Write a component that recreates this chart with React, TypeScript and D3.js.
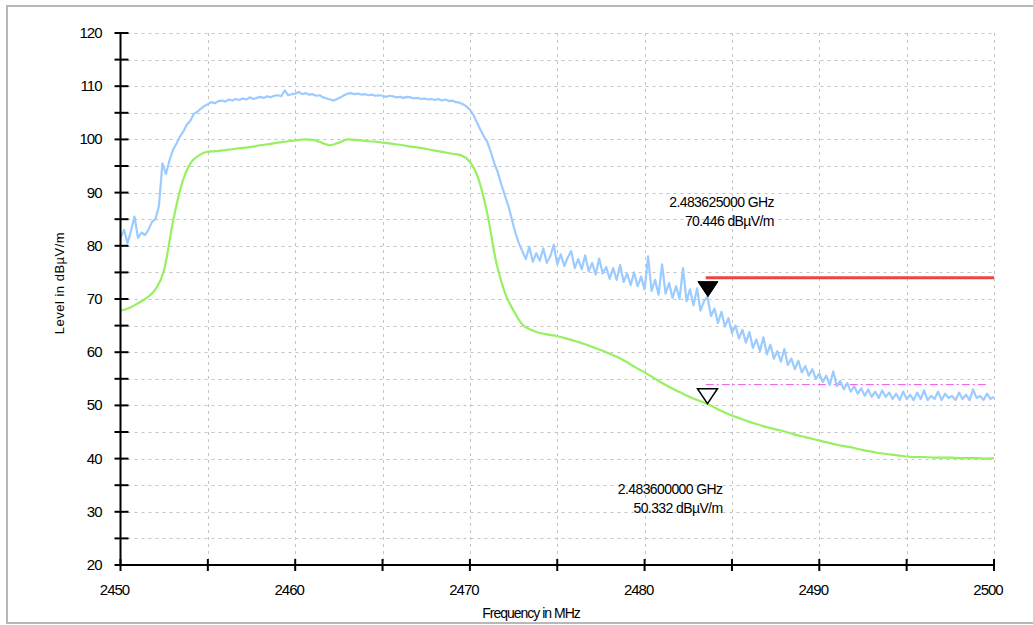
import React from 'react';
import * as d3 from 'd3';

// peak trace, 0.2 MHz steps, one row = 1 MHz
const peakStep = 0.2;
const peak2450 = [
  81.5, 83.0, 80.5, 82.8, 85.5,
  81.5, 82.5, 82.0, 83.0, 84.5,
  85.0, 87.5, 95.5, 93.5, 96.0,
  98.0, 99.2, 100.5, 101.5, 102.8,
  103.5, 104.8, 105.2, 105.8, 106.3,
  106.6, 107.0, 106.8, 107.2, 107.3,
  107.1, 107.5, 107.3, 107.6, 107.4,
  107.7, 107.5, 107.9, 107.6, 107.8,
  108.0, 107.8, 108.1, 107.9, 108.2,
  108.3, 108.1, 109.2, 108.3, 108.5,
];
const peak2460 = [
  108.6, 108.9, 108.5, 108.7, 108.4,
  108.5, 108.2, 108.3, 107.9, 107.7,
  107.5, 107.3, 107.6, 107.9, 108.3,
  108.6, 108.7, 108.5, 108.6, 108.4,
  108.5, 108.3, 108.4, 108.2, 108.3,
  108.2, 108.0, 108.2, 108.1, 107.9,
  108.0, 107.8, 108.0, 107.9, 107.7,
  107.8, 107.6, 107.7, 107.5, 107.6,
  107.4, 107.6, 107.3, 107.5, 107.2,
  107.3, 107.0, 106.9, 106.6, 106.2,
];
const peak2470 = [
  105.6, 104.6, 103.2, 101.8, 100.6,
  99.5, 97.6, 95.5, 93.8, 91.5,
  89.5, 87.5, 85.0, 82.5, 80.5,
  79.0, 77.5, 79.8, 77.0, 78.6,
  77.2, 79.5, 76.8, 78.0, 80.2,
  76.5, 78.4, 76.2, 77.8, 79.0,
  75.8, 77.5, 75.6, 78.2, 75.2,
  76.8, 74.6, 77.6, 74.8, 76.0,
  73.8, 75.8, 73.6, 76.4, 73.2,
  74.8, 72.6, 75.0, 72.4, 74.2,
];
const peak2480 = [
  71.8, 78.0, 71.5, 73.6, 70.8,
  76.5, 71.0, 73.0, 70.2, 72.4,
  70.0, 75.8, 69.6, 71.8, 68.8,
  72.0, 67.8, 69.6, 70.4, 66.8,
  68.2, 65.5, 67.6, 64.8, 66.4,
  63.6, 65.0, 62.6, 64.2, 61.8,
  63.8, 60.8, 62.4, 60.2, 62.8,
  59.6, 61.4, 58.8, 60.2, 58.2,
  60.6, 57.6, 58.8, 56.8, 58.4,
  56.2, 57.4, 55.6, 56.8, 55.0,
];
const peak2490 = [
  56.0, 54.4, 55.6, 53.8, 56.4,
  53.6, 54.6, 53.0, 54.2, 52.6,
  53.6, 52.2, 53.2, 51.8, 53.0,
  51.6, 52.6, 51.4, 52.8, 51.6,
  52.4, 51.2, 52.2, 51.0, 52.6,
  51.2, 52.0, 51.0, 52.4, 51.2,
  52.8, 51.0, 51.8, 51.2, 52.6,
  51.0, 52.2, 51.4, 51.8, 51.0,
  52.4, 51.2, 52.0, 51.0, 53.0,
  51.4, 51.8, 51.0, 52.2, 51.2,
  51.6,
];

// average trace, 0.5 MHz steps, one row = 5 MHz
const avgStep = 0.5;
const avgLevel = [
  67.8, 68.3, 69.2, 70.2, 71.8, 75.5, 84.5, 91.5, 95.5, 97.0,
  97.7, 97.8, 98.0, 98.2, 98.4, 98.6, 98.9, 99.1, 99.4, 99.6,
  99.8, 100.0, 99.9, 99.4, 98.9, 99.4, 100.0, 99.9, 99.7, 99.6,
  99.4, 99.2, 99.0, 98.7, 98.5, 98.2, 97.9, 97.6, 97.3, 97.0,
  95.8, 92.5, 86.0, 77.0, 71.2, 67.8, 65.2, 64.2, 63.6, 63.3,
  63.0, 62.6, 62.1, 61.6, 61.0, 60.4, 59.7, 59.0, 58.1, 57.1,
  56.2, 55.2, 54.2, 53.3, 52.5, 51.7, 51.0, 50.4, 49.6, 48.8,
  48.1, 47.5, 46.9, 46.4, 45.9, 45.5, 45.1, 44.6, 44.2, 43.8,
  43.4, 43.0, 42.6, 42.3, 42.0, 41.6, 41.3, 41.0, 40.8, 40.6,
  40.4, 40.3, 40.3, 40.2, 40.2, 40.2, 40.1, 40.1, 40.1, 40.0,
  40.1,
];

// limit lines (dBuV/m) from 2483.5 MHz
const limitStart = 2483.5;
const limitEnd = 2500;
const peakLimit = 74;
const avgLimit = 54;

// markers
const peakMarker = { f: 2483.625, level: 70.446, ghz: '2.483625000 GHz', lvl: '70.446 dBµV/m' };
const avgMarker = { f: 2483.6, level: 50.332, ghz: '2.483600000 GHz', lvl: '50.332 dBµV/m' };

const xTicks = d3.range(2450, 2501, 5);
const yTicks = d3.range(20, 121, 5);

const W = 1033;
const H = 625;
const font = 'Liberation Sans, Arial, sans-serif';

export default function App() {
  const x = d3.scaleLinear().domain([2450, 2500]).range([120.5, 994]);
  const y = d3.scaleLinear().domain([20, 120]).range([565, 33]);

  const peak = [
    ...peak2450.map((v, i) => [2450 + i * peakStep, v]),
    ...peak2460.map((v, i) => [2460 + i * peakStep, v]),
    ...peak2470.map((v, i) => [2470 + i * peakStep, v]),
    ...peak2480.map((v, i) => [2480 + i * peakStep, v]),
    ...peak2490.map((v, i) => [2490 + i * peakStep, v]),
  ];
  const avg = avgLevel.map((v, i) => [2450 + i * avgStep, v]);

  const line = d3
    .line<number[]>()
    .x((d) => x(d[0]))
    .y((d) => y(d[1]));
  const smooth = line.curve(d3.curveMonotoneX);

  const x0 = x(2450);
  const x1 = x(2500);
  const y0 = y(20);
  const y1 = y(120);

  const pmx = x(peakMarker.f);
  const pmy = y(peakMarker.level);
  const amx = x(avgMarker.f);
  const amy = y(avgMarker.level);
  const tri = (cx: number, tip: number) =>
    `M${cx - 10},${tip - 15}L${cx + 10},${tip - 15}L${cx},${tip}Z`;

  const peakPath = d3.line<number[]>().x((d) => x(d[0])).y((d) => y(d[1]))(peak) || '';
  const avgPath = smooth(avg) || '';

  return (
    <svg
      width={W}
      height={H}
      style={{ position: 'absolute', left: 0, top: 0, background: '#fff' }}
      fontFamily={font}
    >
      <rect x={7} y={6} width={W} height={617} fill="#fff" stroke="#b8b8b8" strokeWidth={2} />

      {/* grid */}
      <g stroke="#c4c4c4" strokeWidth={1} strokeDasharray="3,4">
        {yTicks.filter((t) => t !== 20).map((t) => (
          <line key={'gy' + t} x1={x0} x2={x1} y1={Math.round(y(t)) + 0.5} y2={Math.round(y(t)) + 0.5} />
        ))}
        {xTicks.filter((t) => t !== 2450).map((t) => (
          <line key={'gx' + t} x1={Math.round(x(t)) + 0.5} x2={Math.round(x(t)) + 0.5} y1={y1} y2={y0} />
        ))}
      </g>

      {/* limits */}
      <line x1={x(limitStart)} x2={x(limitEnd)} y1={y(peakLimit)} y2={y(peakLimit)} stroke="#ee4444" strokeWidth={3} />
      <line
        x1={x(limitStart)}
        x2={x(limitEnd) - 6}
        y1={y(avgLimit) + 0.5}
        y2={y(avgLimit) + 0.5}
        stroke="#ee55ee"
        strokeWidth={1}
        strokeDasharray="8,3,2,3"
      />

      {/* traces */}
      <path d={peakPath} fill="none" stroke="#9ccbff" strokeWidth={2.2} strokeLinejoin="round" />
      <path d={avgPath} fill="none" stroke="#96f060" strokeWidth={2.2} strokeLinejoin="round" />

      {/* axes */}
      <g stroke="#000" strokeWidth={2}>
        <line x1={x0} x2={x0} y1={y1} y2={y0 + 1} />
        <line x1={x0 - 1} x2={x1 + 1} y1={y0} y2={y0} />
        {yTicks.map((t) => (
          <line key={'ty' + t} x1={x0 - 6} x2={x0 + 8} y1={y(t)} y2={y(t)} />
        ))}
        {xTicks.map((t) => (
          <line key={'tx' + t} x1={x(t)} x2={x(t)} y1={y0 - 6} y2={y0 + 6} />
        ))}
      </g>
      <g fontSize={15} letterSpacing={-1} fill="#000">
        {yTicks.filter((t) => t % 10 === 0).map((t) => (
          <text key={'ly' + t} x={x0 - 19} y={y(t) + 5} textAnchor="end">
            {t}
          </text>
        ))}
        {xTicks.filter((t) => t % 10 === 0).map((t) => (
          <text key={'lx' + t} x={x(t) - 6} y={y0 + 30} textAnchor="middle">
            {t}
          </text>
        ))}
      </g>
      <text x={531} y={618} fontSize={14} letterSpacing={-1} textAnchor="middle">
        Frequency in MHz
      </text>
      <text transform="translate(64,283) rotate(-90)" fontSize={13} letterSpacing={0.5} textAnchor="middle">
        Level in dBµV/m
      </text>

      {/* markers */}
      <path d={tri(pmx, pmy)} fill="#000" stroke="#000" strokeWidth={1} />
      <path d={tri(amx, amy)} fill="#fff" stroke="#000" strokeWidth={1.5} />
      <g fontSize={14} letterSpacing={-0.6} textAnchor="end">
        <text x={pmx + 66} y={pmy - 90}>{peakMarker.ghz}</text>
        <text x={pmx + 66} y={pmy - 71}>{peakMarker.lvl}</text>
        <text x={amx + 15} y={amy + 90}>{avgMarker.ghz}</text>
        <text x={amx + 15} y={amy + 109}>{avgMarker.lvl}</text>
      </g>
    </svg>
  );
}
